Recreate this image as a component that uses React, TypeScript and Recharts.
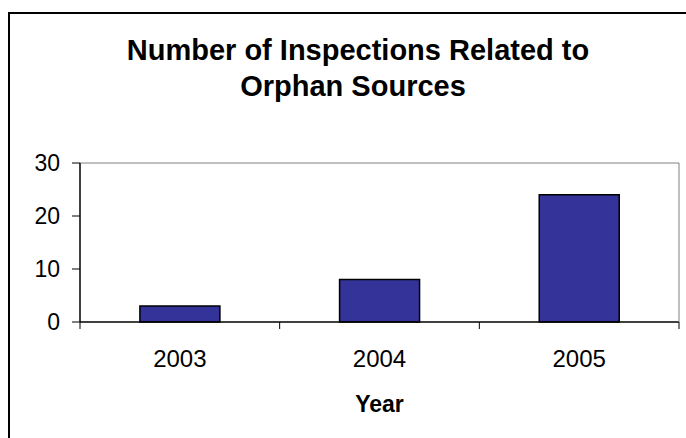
import { BarChart, Bar, XAxis, YAxis, ReferenceLine } from "recharts";

const years = ["2003", "2004", "2005"];
const inspections = [3, 8, 24];
const yTicks = [0, 10, 20, 30];

const data = years.map((year, i) => ({ year, inspections: inspections[i] }));

const font = "'Liberation Sans', Arial, sans-serif";

// year label centred in its band, with Excel-style tick marks on the band edges
function YearTick(props: any) {
  const { x, y, payload, index, visibleTicksCount } = props;
  const half = payload.offset || 0;
  const last = index === visibleTicksCount - 1;
  return (
    <g>
      <line x1={x - half} x2={x - half} y1={y} y2={y + 7} stroke="#000" />
      {last && <line x1={x + half} x2={x + half} y1={y} y2={y + 7} stroke="#000" />}
      <text
        x={x}
        y={y + 45}
        textAnchor="middle"
        fill="#000"
        fontSize={24}
        fontFamily={font}
      >
        {payload.value}
      </text>
    </g>
  );
}

export default function App() {
  return (
    <div
      style={{
        position: "fixed",
        left: 0,
        top: 0,
        width: 686,
        height: 438,
        overflow: "hidden",
        background: "#fff",
        fontFamily: font,
      }}
    >
      {/* outer chart border (runs off the right and bottom edges) */}
      <div
        style={{
          position: "absolute",
          left: 8,
          top: 12,
          width: 760,
          height: 520,
          border: "2px solid #000",
          boxSizing: "border-box",
        }}
      />
      <div
        style={{
          position: "absolute",
          left: 0,
          width: 716,
          top: 35.5,
          textAlign: "center",
          fontSize: 29,
          lineHeight: "29px",
          fontWeight: "bold",
          color: "#000",
          whiteSpace: "nowrap",
        }}
      >
        Number of Inspections Related to
      </div>
      <div
        style={{
          position: "absolute",
          left: 0,
          width: 706,
          top: 71.5,
          textAlign: "center",
          fontSize: 29,
          lineHeight: "29px",
          fontWeight: "bold",
          color: "#000",
          whiteSpace: "nowrap",
        }}
      >
        Orphan Sources
      </div>
      <div style={{ position: "absolute", left: 0, top: 0 }}>
        <BarChart
          width={686}
          height={438}
          data={data}
          margin={{ top: 163, right: 0, bottom: 0, left: 0 }}
          barCategoryGap="30%"
        >
          <ReferenceLine y={30} stroke="#808080" strokeWidth={1} />
          <XAxis
            dataKey="year"
            height={116}
            axisLine={{ stroke: "#000", strokeWidth: 1.5 }}
            tickLine={false}
            tickSize={0}
            tickMargin={0}
            interval={0}
            tick={<YearTick />}
            label={{
              value: "Year",
              position: "insideBottom",
              offset: 26,
              fill: "#000",
              fontSize: 23,
              fontWeight: "bold",
              fontFamily: font,
            }}
          />
          <YAxis
            width={80}
            domain={[0, 30]}
            ticks={yTicks}
            axisLine={{ stroke: "#000", strokeWidth: 1.5 }}
            tickLine={{ stroke: "#000" }}
            tickSize={8}
            tickMargin={12}
            tick={{ fill: "#000", fontSize: 23, fontFamily: font }}
          />
          <YAxis
            yAxisId="r"
            orientation="right"
            width={7}
            domain={[0, 30]}
            tick={false}
            tickLine={false}
            axisLine={{ stroke: "#808080" }}
          />
          <Bar
            dataKey="inspections"
            fill="#333399"
            stroke="#000"
            strokeWidth={1.5}
            isAnimationActive={false}
          />
        </BarChart>
      </div>
    </div>
  );
}
